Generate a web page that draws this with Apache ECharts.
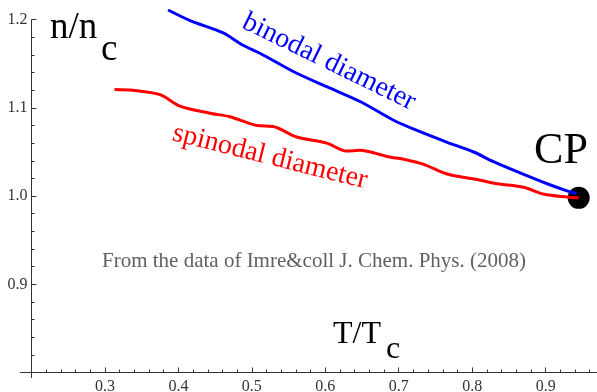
<!DOCTYPE html>
<html><head><meta charset="utf-8">
<script src="https://cdn.jsdelivr.net/npm/echarts@6/dist/echarts.min.js"></script>
<style>html,body{margin:0;padding:0;background:#fff}#c{width:597px;height:392px}</style>
</head><body><div id="c"></div>
<script>
const binodalT = [0.386, 0.416, 0.461, 0.488, 0.511, 0.557, 0.602, 0.648, 0.693, 0.729, 0.766, 0.802, 0.829, 0.866, 0.902, 0.929, 0.942];
const binodalN = [1.211, 1.199, 1.185, 1.171, 1.162, 1.141, 1.124, 1.107, 1.086, 1.073, 1.061, 1.050, 1.039, 1.026, 1.014, 1.006, 1.003];
const spinodalT = [0.313, 0.338, 0.375, 0.402, 0.443, 0.470, 0.507, 0.529, 0.561, 0.602, 0.629, 0.647, 0.684, 0.711, 0.734, 0.766, 0.811, 0.834, 0.870, 0.898, 0.929, 0.945];
const spinodalN = [1.121, 1.120, 1.115, 1.102, 1.094, 1.090, 1.080, 1.079, 1.067, 1.060, 1.051, 1.052, 1.045, 1.041, 1.036, 1.025, 1.018, 1.014, 1.010, 1.002, 0.999, 0.998];
const critical = [0.945, 0.998];
const xTicks = [0.3, 0.4, 0.5, 0.6, 0.7, 0.8, 0.9];
const yTicks = [0.9, 1.0, 1.1, 1.2];

const serif = '"Liberation Serif", "DejaVu Serif", serif';
const chart = echarts.init(document.getElementById('c'));
const zip = (a, b) => a.map((v, i) => [v, b[i]]);
const isTick = (list, v) => list.some(t => Math.abs(t - v) < 1e-6);
// place text by its baseline using top alignment
const label = (text, x, baseline, size, color, extra) => ({
  type: 'text', x: x, y: baseline - 0.805 * size,
  style: Object.assign({ text: text, font: size + 'px ' + serif, fill: color, verticalAlign: 'top' }, extra || {})
});

chart.setOption({
  animation: false,
  backgroundColor: '#fff',
  grid: { left: 31.5, top: 19.7, width: 587.6, height: 352.8, containLabel: false, outerBoundsMode: 'none' },
  xAxis: {
    type: 'value', min: 0.2, max: 1.0, interval: 0.1,
    axisLine: { show: true, onZero: false, lineStyle: { color: '#333', width: 1 } },
    axisTick: { show: true, inside: true, length: 5, lineStyle: { color: '#333' } },
    minorTick: { show: true, splitNumber: 5, length: 3, lineStyle: { color: '#333' } },
    splitLine: { show: false },
    axisLabel: { margin: 6, color: '#333', fontFamily: serif, fontSize: 16,
      formatter: v => isTick(xTicks, v) ? v.toFixed(1) : '' }
  },
  yAxis: {
    type: 'value', min: 0.8, max: 1.2, interval: 0.1,
    axisLine: { show: true, onZero: false, lineStyle: { color: '#333', width: 1 } },
    axisTick: { show: true, inside: true, length: 5, lineStyle: { color: '#333' } },
    minorTick: { show: true, splitNumber: 5, length: 3, lineStyle: { color: '#333' } },
    splitLine: { show: false },
    axisLabel: { margin: 4, color: '#333', fontFamily: serif, fontSize: 16,
      formatter: v => isTick(yTicks, v) ? v.toFixed(1) : '' }
  },
  series: [
    { type: 'line', name: 'binodal', data: zip(binodalT, binodalN), showSymbol: false, smooth: 0.3, clip: false,
      lineStyle: { color: '#0000ff', width: 3 } },
    { type: 'line', name: 'spinodal', data: zip(spinodalT, spinodalN), showSymbol: false, smooth: 0.3, clip: false,
      lineStyle: { color: '#ff0000', width: 3 } },
    { type: 'scatter', name: 'CP', data: [critical], symbolSize: 22, clip: false,
      itemStyle: { color: '#000', opacity: 1 } }
  ],
  graphic: [
    { type: 'line', shape: { x1: 20, y1: 372.5, x2: 31.5, y2: 372.5 }, style: { stroke: '#333', lineWidth: 1 } },
    { type: 'line', shape: { x1: 31.5, y1: 372.5, x2: 31.5, y2: 378 }, style: { stroke: '#333', lineWidth: 1 } },
    label('n/n', 50, 40, 37, '#000'),
    label('c', 101, 62, 37, '#000'),
    label('T/T', 333, 344, 32, '#000'),
    label('c', 386, 359, 32, '#000'),
    label('CP', 561, 165, 44, '#000', { align: 'center' }),
    { type: 'text', x: 329, y: 62, rotation: -26 * Math.PI / 180,
      style: { text: 'binodal diameter', font: '28px ' + serif, fill: '#0000ff', align: 'center', verticalAlign: 'middle' } },
    { type: 'text', x: 270, y: 157, rotation: -14 * Math.PI / 180,
      style: { text: 'spinodal diameter', font: '28px ' + serif, fill: '#ff0000', align: 'center', verticalAlign: 'middle' } },
    label('From the data of Imre&coll J. Chem. Phys. (2008)', 102, 268, 21, '#606060')
  ]
});
</script></body></html>
